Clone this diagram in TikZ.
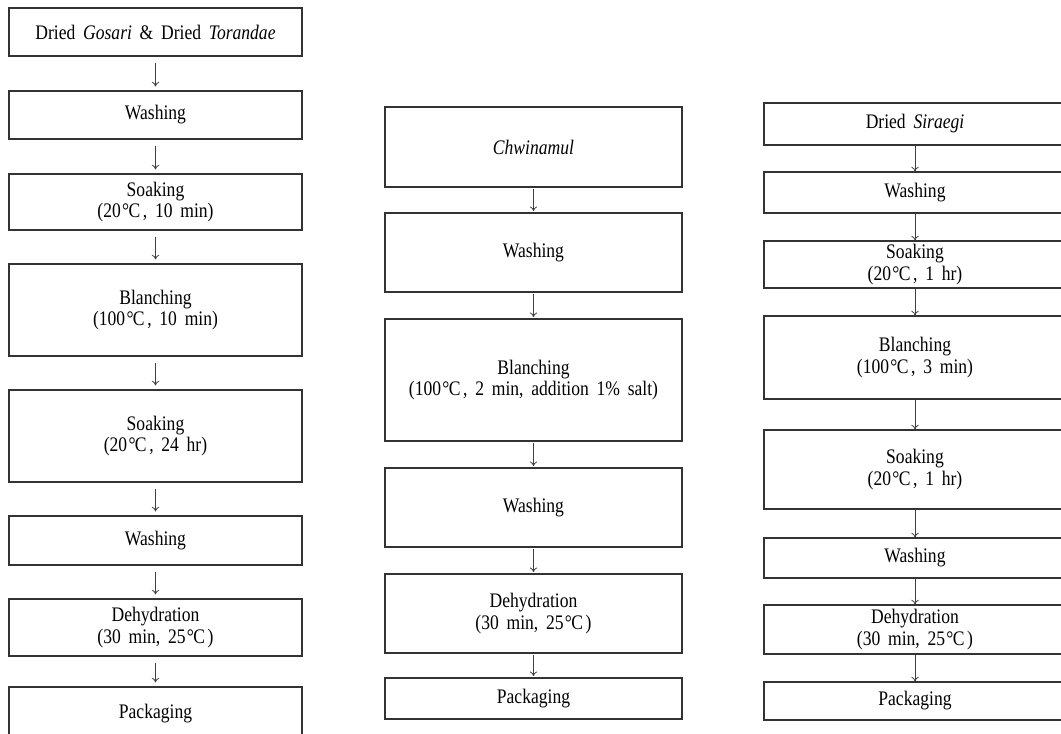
\documentclass[tikz,border=0pt]{standalone}
\usepackage{fontspec}
\setmainfont[FakeStretch=0.85]{Liberation Serif}
\usetikzlibrary{arrows.meta}
\newcommand{\degC}{\kern1pt°\kern-0.5pt C\kern2pt}
\newcommand{\stepfont}{\fontsize{15.5}{16}\selectfont\spaceskip=5.8pt plus 1pt\relax}

\begin{document}
\begin{tikzpicture}[x=0.75pt,y=-0.75pt,>={To[length=3.5pt,width=5.5pt]},
  stepbox/.style={draw=black!80,line width=0.8pt,inner sep=0pt,align=center,font=\stepfont},
  flow/.style={->,draw=black!75,line width=0.6pt}]
\clip (0,0) rectangle (1061,734);
% left column: Gosari and Torandae
\node[stepbox,minimum width=219.75pt,minimum height=36pt] (g1) at (155.5,32) {Dried \textit{Gosari} \& Dried \textit{Torandae}};
\node[stepbox,minimum width=219.75pt,minimum height=36pt] (g2) at (155.5,115) {Washing};
\node[stepbox,minimum width=219.75pt,minimum height=42pt] (g3) at (155.5,202) {Soaking\\(20\degC, 10 min)};
\node[stepbox,minimum width=219.75pt,minimum height=69pt] (g4) at (155.5,310) {Blanching\\(100\degC, 10 min)};
\node[stepbox,minimum width=219.75pt,minimum height=69pt] (g5) at (155.5,436) {Soaking\\(20\degC, 24 hr)};
\node[stepbox,minimum width=219.75pt,minimum height=36.75pt] (g6) at (155.5,540.5) {Washing};
\node[stepbox,minimum width=219.75pt,minimum height=42.75pt] (g7) at (155.5,627.5) {Dehydration\\(30 min, 25\degC)};
\node[stepbox,minimum width=219.75pt,minimum height=39.75pt] (g8) at (155.5,713.5) {Packaging};
\foreach \a/\b in {g1/g2,g2/g3,g3/g4,g4/g5,g5/g6,g6/g7,g7/g8}
  \draw[flow,shorten <=4.5pt,shorten >=3pt] (\a) -- (\b);
% middle column: Chwinamul
\node[stepbox,minimum width=222.75pt,minimum height=60pt] (c1) at (533.5,147) {\textit{Chwinamul}};
\node[stepbox,minimum width=222.75pt,minimum height=59.25pt] (c2) at (533.5,252.5) {Washing};
\node[stepbox,minimum width=222.75pt,minimum height=91.5pt] (c3) at (533.5,380) {Blanching\\(100\degC, 2 min, addition 1\% salt)};
\node[stepbox,minimum width=222.75pt,minimum height=59.25pt] (c4) at (533.5,507.5) {Washing};
\node[stepbox,minimum width=222.75pt,minimum height=59.25pt] (c5) at (533.5,613.5) {Dehydration\\(30 min, 25\degC)};
\node[stepbox,minimum width=222.75pt,minimum height=30.75pt] (c6) at (533.5,698.5) {Packaging};
\foreach \a/\b in {c1/c2,c2/c3,c3/c4,c4/c5,c5/c6}
  \draw[flow,shorten <=1pt,shorten >=1pt] (\a) -- (\b);
% right column: Siraegi
\node[stepbox,minimum width=226.5pt,minimum height=31.5pt] (s1) at (915,124) {Dried \textit{Siraegi}};
\node[stepbox,minimum width=226.5pt,minimum height=30.75pt] (s2) at (915,192.5) {Washing};
\node[stepbox,minimum width=226.5pt,minimum height=35.25pt] (s3) at (915,264.5) {Soaking\\(20\degC, 1 hr)};
\node[stepbox,minimum width=226.5pt,minimum height=62.25pt] (s4) at (915,357.5) {Blanching\\(100\degC, 3 min)};
\node[stepbox,minimum width=226.5pt,minimum height=59.25pt] (s5) at (915,469.5) {Soaking\\(20\degC, 1 hr)};
\node[stepbox,minimum width=226.5pt,minimum height=30pt] (s6) at (915,558) {Washing};
\node[stepbox,minimum width=226.5pt,minimum height=36.75pt] (s7) at (915,629.5) {Dehydration\\(30 min, 25\degC)};
\node[stepbox,minimum width=226.5pt,minimum height=28.5pt] (s8) at (915,701) {Packaging};
\foreach \a/\b in {s1/s2,s2/s3,s3/s4,s4/s5,s5/s6,s6/s7,s7/s8}
  \draw[flow] (\a) -- (\b);
\end{tikzpicture}
\end{document}
